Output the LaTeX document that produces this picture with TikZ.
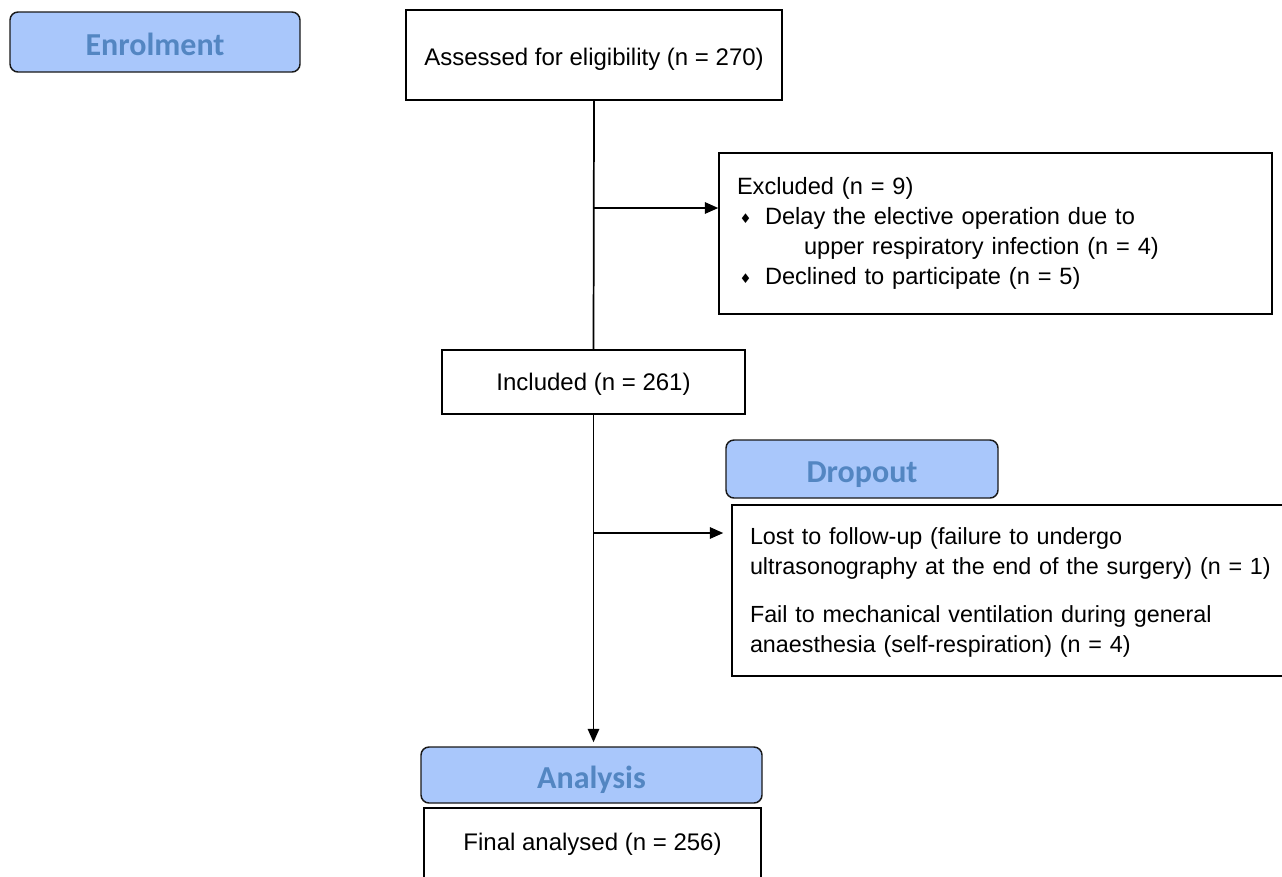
\documentclass[tikz,border=0pt]{standalone}
\usepackage{fontspec}
\setmainfont{Liberation Sans}
\newfontfamily\hdfont{Carlito}
\newfontfamily\symfont{DejaVu Sans}
\usetikzlibrary{arrows.meta}
\definecolor{hdfill}{HTML}{A9C7FB}
\definecolor{hdtext}{HTML}{5386C2}
\newcommand{\bul}{\makebox[21pt][l]{\hspace{2pt}\raisebox{0.5pt}{\symfont\fontsize{10}{10}\selectfont ♦}}}
\newcommand{\dn}[2]{\raisebox{-#1}[\height][\depth]{#2}}
\begin{document}
\begin{tikzpicture}[x=0.75pt,y=-0.75pt,
  hdr/.style={draw=black!90, line width=1.1pt, rounded corners=6pt, fill=hdfill, text=hdtext,
    font=\hdfont\bfseries\fontsize{24}{28}\selectfont, inner sep=0pt},
  box/.style={draw, line width=1.1pt, font=\fontsize{18}{22.5}\selectfont, inner sep=0pt},
  txtbox/.style={box, align=left, inner xsep=13.5pt},
  link/.style={line width=1.3pt},
  arr/.style={line width=1.3pt, -{Triangle[length=10pt,width=8.5pt]}}]
\useasboundingbox (0,0) rectangle (1282,876);
\clip (0,0) rectangle (1282,876);

\node[hdr, minimum width=217.5pt, minimum height=45pt] (enrol) at (155,42) {\dn{1.5pt}{Enrolment}};
\node[box, minimum width=282pt, minimum height=67.5pt] (assess) at (594,55) {\dn{3pt}{Assessed for eligibility (n = 270)}};
\node[txtbox, text width=387.75pt, minimum height=120.75pt, font=\fontsize{17.7}{22.5}\selectfont] (excl) at (995.5,233.5)
  {Excluded (n = 9)\\
   \bul Delay the elective operation due to\\
   \hspace*{50.25pt}upper respiratory infection (n = 4)\\
   \bul Declined to participate (n = 5)};
\node[box, minimum width=227.25pt, minimum height=48pt] (incl) at (593.5,382) {\dn{1.5pt}{Included (n = 261)}};
\node[hdr, minimum width=204pt, minimum height=43.5pt] (drophdr) at (862,469) {\dn{4.5pt}{Dropout}};
\node[txtbox, text width=420pt, minimum height=128.25pt, font=\fontsize{17.5}{22.5}\selectfont] (drop) at (1030,590.5)
  {\rule{0pt}{16pt}Lost to follow-up (failure to undergo\\
   ultrasonography at the end of the surgery) (n = 1)\\[13.5pt]
   Fail to mechanical ventilation during general\\
   anaesthesia (self-respiration) (n = 4)};
\node[hdr, minimum width=255.75pt, minimum height=42pt] (anal) at (591.5,775) {\dn{3.75pt}{Analysis}};
\node[box, minimum width=252.75pt, minimum height=54pt] (final) at (592.5,844) {Final analysed (n = 256)};

\draw[link] (assess.south) -- (incl.north);
\coordinate (b1) at (594,208);
\draw[arr] (b1) -- (b1 -| excl.west);
\draw[arr, shorten >=3pt] (incl.south) -- (incl.south |- anal.north);
\coordinate (b2) at (593.5,533);
\draw[arr, shorten >=6pt] (b2) -- (b2 -| drop.west);
\end{tikzpicture}
\end{document}
